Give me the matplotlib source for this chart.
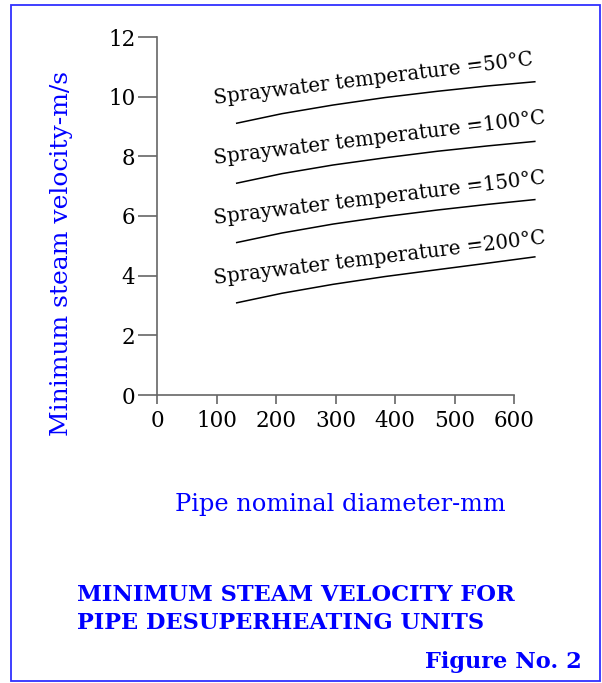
import matplotlib
matplotlib.use("Agg")
import matplotlib.pyplot as plt
import numpy as np
from matplotlib.patches import Rectangle

# curve data (pipe diameter mm -> min steam velocity m/s)
diam = [134, 210, 296, 383, 471, 556, 635]
v_50 = [9.11, 9.43, 9.72, 9.97, 10.18, 10.36, 10.50]
v_100 = [7.10, 7.42, 7.71, 7.95, 8.17, 8.35, 8.50]
v_150 = [5.11, 5.43, 5.73, 5.98, 6.20, 6.39, 6.55]
v_200 = [3.09, 3.41, 3.71, 3.97, 4.20, 4.42, 4.63]
temps = ["50", "100", "150", "200"]
series = [v_50, v_100, v_150, v_200]

x_ticks = [0, 100, 200, 300, 400, 500, 600]
y_ticks = [0, 2, 4, 6, 8, 10, 12]

plt.rcParams['font.family'] = ['DejaVu Serif']
blue = '#0000ff'
grey = '#666666'

fig = plt.figure(figsize=(6.02, 6.83), dpi=100)
ax = fig.add_axes([157/602, 288/683, 357/602, 358/683])

for vals in series:
    ax.plot(diam, vals, color='black', lw=1.1, clip_on=False,
            solid_joinstyle='round')

for t, vals in zip(temps, series):
    ax.annotate("Spraywater temperature =%s\u00b0C" % t, xy=(diam[0], vals[0]),
                xytext=(-22, 19), textcoords='offset pixels',
                rotation=7.0, rotation_mode='anchor', ha='left', va='baseline',
                fontsize=14.2, color='black')

ax.set_xlim(0, 600)
ax.set_ylim(0, 12)
ax.set_xticks(x_ticks)
ax.set_yticks(y_ticks)
ax.spines['top'].set_visible(False)
ax.spines['right'].set_visible(False)
for s in ['left', 'bottom']:
    ax.spines[s].set_color(grey)
    ax.spines[s].set_linewidth(1.2)
ax.tick_params(axis='y', direction='out', length=13.5, width=1.2, color=grey,
               labelsize=15.5, pad=2)
ax.tick_params(axis='x', direction='out', length=6.5, width=1.2, color=grey,
               labelsize=15.5, pad=4)

fig.text(62/602, 1 - 253/683, "Minimum steam velocity-m/s", rotation=90,
         ha='center', va='center', color=blue, fontsize=18)
fig.text(340/602, 1 - 505/683, "Pipe nominal diameter-mm",
         ha='center', va='center', color=blue, fontsize=17.4)

fig.text(77/602, 1 - 595/683, "MINIMUM STEAM VELOCITY FOR", ha='left',
         va='center', color=blue, fontsize=16.2, fontweight='bold')
fig.text(77/602, 1 - 623/683, "PIPE DESUPERHEATING UNITS", ha='left',
         va='center', color=blue, fontsize=16.2, fontweight='bold')
fig.text(582/602, 1 - 662/683, "Figure No. 2", ha='right',
         va='center', color=blue, fontsize=16.2, fontweight='bold')

border = Rectangle((11/602, 2/683), 589/602, 676/683, transform=fig.transFigure,
                   fill=False, edgecolor='#3030ff', lw=1.3)
fig.patches.append(border)

fig.savefig("out.png", dpi=100)
